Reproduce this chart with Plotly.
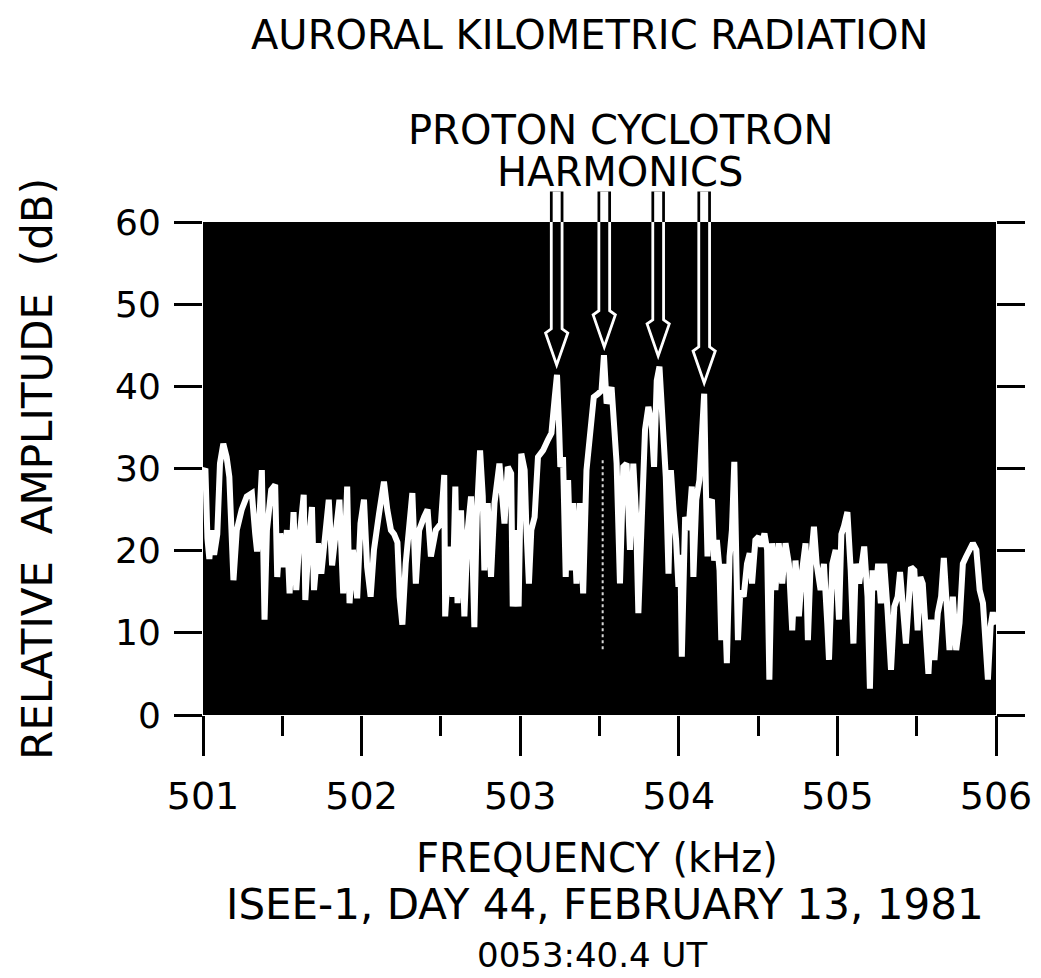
import plotly.graph_objects as go

# ---------------- data ----------------
freq_khz = [
    501.000, 501.015, 501.028, 501.040, 501.055, 501.070, 501.090, 501.107, 501.128, 501.149,
    501.166, 501.192, 501.213, 501.244, 501.276, 501.308, 501.329, 501.341, 501.356, 501.371,
    501.388, 501.403, 501.430, 501.455, 501.468, 501.487, 501.508, 501.529, 501.546, 501.571,
    501.588, 501.609, 501.635, 501.645, 501.666, 501.687, 501.700, 501.725, 501.746, 501.772,
    501.793, 501.814, 501.835, 501.860, 501.884, 501.909, 501.924, 501.945, 501.972, 501.993,
    502.015, 502.035, 502.057, 502.078, 502.110, 502.141, 502.162, 502.185, 502.205, 502.226,
    502.240, 502.257, 502.278, 502.300, 502.320, 502.342, 502.363, 502.394, 502.416, 502.437,
    502.468, 502.500, 502.521, 502.527, 502.553, 502.574, 502.591, 502.605, 502.627, 502.648,
    502.669, 502.690, 502.711, 502.726, 502.747, 502.764, 502.774, 502.795, 502.816, 502.838,
    502.869, 502.901, 502.922, 502.943, 502.953, 502.975, 502.990, 503.007, 503.028, 503.038,
    503.055, 503.070, 503.091, 503.112, 503.144, 503.175, 503.197, 503.218, 503.232, 503.245,
    503.253, 503.270, 503.287, 503.302, 503.319, 503.334, 503.355, 503.376, 503.397, 503.418,
    503.443, 503.464, 503.492, 503.513, 503.528, 503.545, 503.576, 503.597, 503.608, 503.629,
    503.650, 503.671, 503.692, 503.713, 503.730, 503.745, 503.766, 503.787, 503.808, 503.829,
    503.844, 503.861, 503.878, 503.893, 503.907, 503.918, 503.935, 503.950, 503.967, 503.983,
    503.998, 504.010, 504.019, 504.040, 504.061, 504.082, 504.092, 504.110, 504.130, 504.147,
    504.160, 504.171, 504.181, 504.194, 504.209, 504.223, 504.240, 504.257, 504.268, 504.282,
    504.293, 504.303, 504.320, 504.335, 504.350, 504.363, 504.373, 504.388, 504.409, 504.430,
    504.447, 504.462, 504.483, 504.504, 504.520, 504.540, 504.557, 504.571, 504.588, 504.609,
    504.630, 504.652, 504.673, 504.694, 504.715, 504.736, 504.757, 504.778, 504.799, 504.814,
    504.831, 504.852, 504.869, 504.894, 504.915, 504.936, 504.947, 504.968, 504.989, 505.010,
    505.025, 505.042, 505.063, 505.084, 505.101, 505.116, 505.137, 505.169, 505.190, 505.205,
    505.222, 505.243, 505.257, 505.274, 505.295, 505.316, 505.338, 505.359, 505.380, 505.395,
    505.411, 505.432, 505.464, 505.485, 505.506, 505.523, 505.538, 505.553, 505.574, 505.591,
    505.612, 505.633, 505.654, 505.671, 505.686, 505.707, 505.728, 505.749, 505.770, 505.791,
    505.812, 505.833, 505.854, 505.876, 505.897, 505.918, 505.932, 505.949, 505.966, 505.980,
    505.995,
]
amplitude_db = [
    29.5, 30.0, 21.5, 19.0, 22.5, 19.5, 22.0, 30.6, 33.0, 31.4,
    29.0, 16.4, 22.5, 25.0, 26.6, 27.0, 22.1, 19.9, 24.1, 29.8,
    11.6, 22.5, 27.4, 28.0, 16.8, 22.1, 18.0, 22.5, 14.8, 24.7,
    15.2, 21.7, 26.8, 14.0, 20.9, 25.3, 15.2, 20.9, 17.2, 22.1,
    26.2, 18.2, 21.7, 26.2, 14.8, 27.8, 13.6, 20.1, 14.2, 23.3,
    26.2, 18.0, 14.4, 20.1, 24.5, 28.4, 25.0, 22.5, 22.0, 21.0,
    14.4, 11.0, 18.4, 22.5, 27.0, 16.0, 22.5, 24.1, 25.0, 19.3,
    22.5, 23.3, 29.2, 12.0, 20.5, 14.4, 27.8, 13.6, 24.9, 12.0,
    22.5, 26.6, 10.7, 24.1, 32.2, 26.6, 17.6, 25.8, 16.8, 25.8,
    30.6, 23.3, 30.2, 29.4, 13.2, 22.5, 13.2, 31.8, 29.8, 23.3,
    16.0, 22.5, 24.1, 31.4, 32.2, 33.5, 34.3, 38.7, 41.4, 35.1,
    30.2, 31.4, 16.8, 28.6, 17.6, 25.8, 16.0, 25.8, 14.8, 29.8,
    33.9, 38.7, 39.1, 39.5, 43.8, 37.9, 39.9, 34.7, 30.6, 16.0,
    30.2, 30.6, 20.1, 30.6, 24.5, 12.4, 26.6, 34.7, 37.5, 35.5,
    30.2, 40.7, 42.4, 37.1, 33.9, 29.0, 17.2, 29.8, 24.9, 21.3,
    15.6, 19.5, 7.1, 24.1, 22.5, 27.8, 16.8, 26.2, 28.6, 33.5,
    39.1, 27.4, 19.3, 25.8, 26.2, 18.8, 21.3, 17.6, 9.1, 18.4,
    12.0, 6.3, 19.3, 22.5, 30.8, 19.3, 9.1, 15.2, 14.4, 18.4,
    19.7, 16.0, 21.3, 21.7, 20.5, 22.1, 20.1, 4.3, 20.9, 15.2,
    20.9, 16.0, 20.9, 18.4, 10.3, 18.8, 12.0, 17.6, 20.9, 9.1,
    18.4, 22.9, 18.4, 15.2, 18.4, 11.2, 6.7, 18.4, 20.1, 11.6,
    22.0, 23.0, 24.7, 17.6, 8.7, 18.4, 16.0, 20.5, 14.4, 3.2,
    17.6, 15.2, 18.4, 13.6, 18.4, 12.8, 5.5, 13.2, 14.4, 17.4,
    12.4, 8.7, 18.0, 17.6, 10.3, 16.8, 16.0, 11.6, 5.0, 11.6,
    6.7, 12.4, 14.4, 19.1, 15.2, 7.9, 14.4, 7.9, 11.2, 18.4,
    19.3, 20.1, 20.9, 20.1, 15.2, 13.6, 10.3, 4.3, 10.8, 12.5,
    11.0,
]

harmonic_freq_khz = [503.23, 503.53, 503.87, 504.16]   # arrow positions
harmonic_tip_db = [42.6, 44.8, 43.7, 40.4]            # arrow tip levels
marker_freq_khz = [503.52, 503.52]                     # faint dotted marker line
marker_db = [8.0, 31.0]

x_tick_vals = [501, 502, 503, 504, 505, 506]
y_tick_vals = [0, 10, 20, 30, 40, 50, 60]

FONT = "DejaVu Sans"

fig = go.Figure()

fig.add_trace(go.Scatter(
    x=marker_freq_khz, y=marker_db, mode="lines",
    line=dict(color="rgba(255,255,255,0.85)", width=2, dash="dot"),
    hoverinfo="skip", showlegend=False,
))

fig.add_trace(go.Scatter(
    x=freq_khz, y=amplitude_db, mode="lines",
    line=dict(color="white", width=6),
    showlegend=False,
))

# ---------------- arrows ----------------
shapes = []
annotations = []
shaft_hw = 0.034
head_hw = 0.07
head_len = 4.4
for f, tip in zip(harmonic_freq_khz, harmonic_tip_db):
    top = tip + head_len
    path = (f"M {f - shaft_hw},61 L {f - shaft_hw},{top} L {f - head_hw},{top - 0.5} "
            f"L {f},{tip} L {f + head_hw},{top - 0.5} L {f + shaft_hw},{top} "
            f"L {f + shaft_hw},61 Z")
    shapes.append(dict(type="path", xref="x", yref="y", path=path,
                       fillcolor="black", line=dict(color="white", width=2.8),
                       layer="above"))
    for w, c in [(13.5, "black"), (8, "white")]:
        annotations.append(dict(
            x=f, y=60, xref="x", yref="y", ax=f, ay=63.9, axref="x", ayref="y",
            text="", showarrow=True, arrowhead=0, arrowwidth=w, arrowcolor=c,
            standoff=0, startstandoff=0, font=dict(size=1)))

# ---------------- texts ----------------
def txt(s, x, y, size, angle=0):
    return dict(text=s, x=x, y=y, xref="paper", yref="paper", showarrow=False,
                xanchor="center", yanchor="middle", textangle=angle,
                font=dict(family=FONT, size=size, color="black"))

annotations += [
    txt("AURORAL KILOMETRIC RADIATION", 0.488, 1.379, 40),
    txt("PROTON CYCLOTRON", 0.526, 1.187, 40),
    txt("HARMONICS", 0.526, 1.101, 40),
    txt("FREQUENCY (kHz)", 0.497, -0.290, 40),
    txt("ISEE-1, DAY 44, FEBRUARY 13, 1981", 0.507, -0.385, 42),
    txt("0053:40.4 UT", 0.49, -0.487, 34),
    txt("RELATIVE  AMPLITUDE  (dB)", -0.209, 0.5, 42, angle=-90),
]

fig.update_layout(
    width=1041, height=978,
    margin=dict(l=195, r=53, t=214, b=271),
    paper_bgcolor="white", plot_bgcolor="black",
    font=dict(family=FONT, color="black"),
    shapes=shapes, annotations=annotations,
    showlegend=False,
)

fig.update_xaxes(
    range=[501, 506], tickvals=x_tick_vals, ticktext=[str(v) for v in x_tick_vals],
    ticks="outside", ticklen=40, tickwidth=2.5, tickcolor="black",
    tickfont=dict(family=FONT, size=38, color="black"), ticklabelstandoff=7,
    minor=dict(ticks="outside", ticklen=20, tickwidth=2.5, tickcolor="black", dtick=0.5),
    showgrid=False, zeroline=False, showline=False,
)
fig.update_yaxes(
    range=[0, 60], tickvals=y_tick_vals,
    ticks="outside", ticklen=28, tickwidth=2.5, tickcolor="black", mirror="ticks",
    tickfont=dict(family=FONT, size=36, color="black"), ticklabelstandoff=6,
    showgrid=False, zeroline=False, showline=False,
)

fig.write_html("out.html")
